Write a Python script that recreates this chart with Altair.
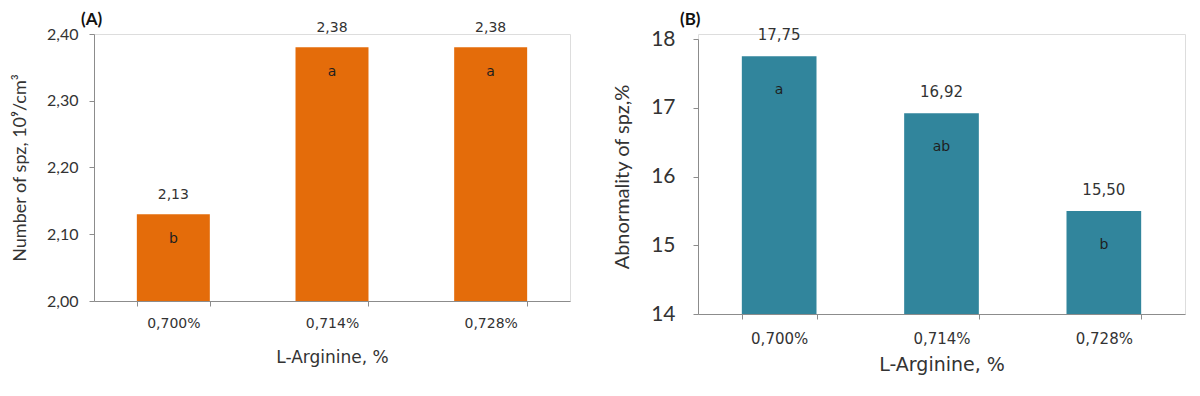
import altair as alt
import pandas as pd

levels = ["0,700%", "0,714%", "0,728%"]
spz_count = [2.13, 2.38, 2.38]
count_letters = ["b", "a", "a"]
abnormality = [17.75, 16.92, 15.50]
abn_letters = ["a", "ab", "b"]

df_a = pd.DataFrame({"level": levels, "value": spz_count, "letter": count_letters})
df_b = pd.DataFrame({"level": levels, "value": abnormality, "letter": abn_letters})

TXT = "#333333"
AX = "#8c8c8c"
VERD = "DejaVu Sans"
CAL = "Lato"


def panel(df, color, title, ytitle, ydomain, ystep, fmt, w, h, cfg):
    xenc = alt.X(
        "level:N", sort=levels, title="L-Arginine, %",
        scale=alt.Scale(paddingInner=0.54, paddingOuter=0.27),
        axis=alt.Axis(labelAngle=0, tickBand="extent", tickSize=5, domainColor=AX,
                      tickColor=AX, labelFont=VERD, labelFontSize=cfg["xl"],
                      labelColor=TXT, labelPadding=cfg["xlp"], titleFont=VERD,
                      titleFontSize=cfg["xt"], titleFontWeight="normal",
                      titleColor=TXT, titlePadding=cfg["xtp"]),
    )
    vals = []
    v = ydomain[0]
    while v <= ydomain[1] + 1e-9:
        vals.append(round(v, 4))
        v += ystep
    yenc = alt.Y(
        "value:Q", title=ytitle,
        scale=alt.Scale(domain=ydomain, nice=False, zero=False,
                        range=[h, cfg["top"]]),
        axis=alt.Axis(values=vals, grid=False, tickSize=5, domainColor=AX, tickColor=AX,
                      labelOverlap=False,
                      labelExpr=f"replace(format(datum.value, '{fmt}'), '.', ',')",
                      labelFont=CAL, labelFontSize=cfg["yl"], labelColor=TXT,
                      labelPadding=cfg["ylp"], titleFont=CAL, titleFontSize=cfg["yt"],
                      titleFontWeight="normal", titleColor=TXT,
                      titlePadding=cfg["ytp"]),
    )
    base = alt.Chart(df).transform_calculate(
        lab="replace(format(datum.value, '.2f'), '.', ',')"
    )
    bars = base.mark_bar(color=color, clip=True).encode(x=xenc, y=yenc)
    vlab = base.mark_text(font=VERD, fontSize=cfg["vl"], color=TXT, dy=cfg["vdy"],
                          baseline="middle").encode(
        x=alt.X("level:N", sort=levels), y="value:Q", text="lab:N")
    llab = base.mark_text(font=VERD, fontSize=14, color="#1f1f1f", dy=cfg["ldy"],
                          baseline="middle").encode(
        x=alt.X("level:N", sort=levels), y="value:Q", text="letter:N")
    ttl = alt.Chart(pd.DataFrame({"t": [title]})).mark_text(
        font=CAL, fontSize=17, fontWeight="bold", color="#111", align="left",
        baseline="middle").encode(
        text="t:N", x=alt.value(cfg["tdx"]), y=alt.value(cfg["tdy"]))
    return alt.layer(bars, vlab, llab, ttl).properties(width=w, height=h)


ca = dict(xl=14, xlp=10, xt=17, xtp=19, yl=16, ylp=11, yt=18, ytp=17, vl=14, vdy=-19,
          ldy=25, tdx=-13, tdy=-14.5, top=0)
cb = dict(xl=15, xlp=12, xt=19, xtp=9, yl=21, ylp=18, yt=20, ytp=18, vl=15, vdy=-21,
          ldy=34, tdx=-18, tdy=-14.5, top=5)

pa = panel(df_a, "#E46C0A", "(A)", "Number of spz, 10⁹/cm³", [2.0, 2.4], 0.05, ".2f",
           476, 267, ca)
pb = panel(df_b, "#31859C", "(B)", "Abnormality of spz,%", [14, 18], 1, "d",
           487, 280, cb)

chart = alt.hconcat(pa, pb, spacing=41).properties(
    padding={"left": 3, "top": 2, "right": 0, "bottom": 0}
).configure_view(stroke=None).configure(background="white")

chart.save("out.html", embed_options={"renderer": "svg", "actions": False})
